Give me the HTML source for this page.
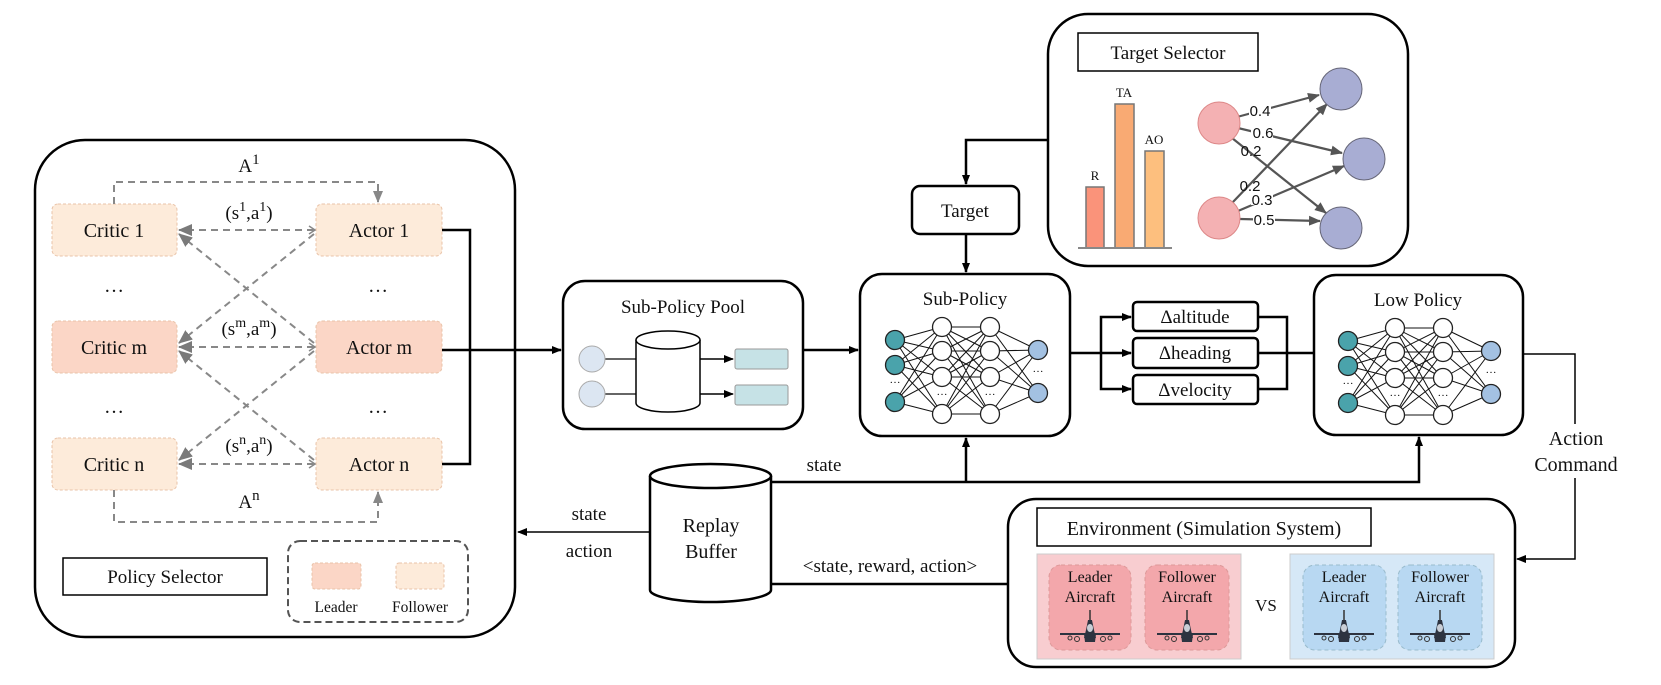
<!DOCTYPE html>
<html><head><meta charset="utf-8"><style>
html,body{margin:0;padding:0;background:#fff}
svg{display:block}
text{font-family:"Liberation Serif",serif;fill:#111}
.s{font-family:"Liberation Sans",sans-serif}
</style></head><body>
<svg id="svg" width="1661" height="685" viewBox="0 0 1661 685" xmlns="http://www.w3.org/2000/svg">
<defs>
<marker id="ab" markerWidth="10" markerHeight="10" refX="9" refY="5" orient="auto" markerUnits="userSpaceOnUse"><path d="M0,1 L10,5 L0,9 Z" fill="#000"/></marker>
<marker id="ag" markerWidth="14" markerHeight="14" refX="13" refY="7" orient="auto" markerUnits="userSpaceOnUse"><path d="M0,1 L14,7 L0,13 Z" fill="#7a7a7a"/></marker>
<marker id="ags" markerWidth="10" markerHeight="10" refX="9" refY="5" orient="auto" markerUnits="userSpaceOnUse"><path d="M0,1 L10,5 L0,9" fill="none" stroke="#888" stroke-width="1.5"/></marker>
<marker id="agd" markerWidth="12" markerHeight="12" refX="11" refY="6" orient="auto" markerUnits="userSpaceOnUse"><path d="M0,1 L12,6 L0,11 Z" fill="#888"/></marker>
<marker id="an" markerWidth="12" markerHeight="12" refX="11" refY="6" orient="auto" markerUnits="userSpaceOnUse"><path d="M0,1 L12,6 L0,11 Z" fill="#555"/></marker>
<g id="jet">
 <line x1="0" y1="-24" x2="0" y2="0" stroke="#333" stroke-width="1.5"/>
 <path d="M-4,-4 L-2,-14 L2,-14 L4,-4 L6,4 L-6,4 Z" fill="#2d3340"/>
 <ellipse cx="0" cy="-6" rx="3" ry="4" fill="#c9ced6"/>
 <line x1="-30" y1="0" x2="30" y2="0" stroke="#2d3340" stroke-width="2"/>
 <path d="M-6,0 L6,0 L5,8 L-5,8 Z" fill="#2d3340"/>
 <circle cx="-20" cy="4" r="2" fill="none" stroke="#333"/><circle cx="-13" cy="5" r="2.5" fill="none" stroke="#333"/>
 <circle cx="13" cy="5" r="2.5" fill="none" stroke="#333"/><circle cx="20" cy="4" r="2" fill="none" stroke="#333"/>
</g>
</defs>

<!-- ===== Policy Selector panel ===== -->
<rect x="35" y="140" width="480" height="497" rx="50" fill="#fff" stroke="#000" stroke-width="2.5"/>
<g stroke="#e9c3a8" stroke-dasharray="3,2" stroke-width="1">
<rect x="52" y="204" width="125" height="52" rx="6" fill="#fdebda"/>
<rect x="316" y="204" width="126" height="52" rx="6" fill="#fdebda"/>
<rect x="52" y="321" width="125" height="52" rx="6" fill="#fbd6c6"/>
<rect x="316" y="321" width="126" height="52" rx="6" fill="#fbd6c6"/>
<rect x="52" y="438" width="125" height="52" rx="6" fill="#fdebda"/>
<rect x="316" y="438" width="126" height="52" rx="6" fill="#fdebda"/>
</g>
<g font-size="20" text-anchor="middle">
<text x="114" y="237">Critic 1</text><text x="379" y="237">Actor 1</text>
<text x="114" y="354">Critic m</text><text x="379" y="354">Actor m</text>
<text x="114" y="471">Critic n</text><text x="379" y="471">Actor n</text>
<text x="114" y="292">…</text><text x="378" y="292">…</text>
<text x="114" y="413">…</text><text x="378" y="413">…</text>
</g>
<g fill="none" stroke="#888" stroke-width="2" stroke-dasharray="7,5">
<path d="M114,204 V182 H378 V202" marker-end="url(#agd)"/>
<path d="M114,490 V522 H378 V492" marker-end="url(#agd)"/>
<line x1="314" y1="230" x2="179" y2="230" marker-end="url(#ag)"/>
<line x1="314" y1="347" x2="179" y2="347" marker-end="url(#ag)"/>
<line x1="314" y1="464" x2="179" y2="464" marker-end="url(#ag)"/>
<line x1="314" y1="234" x2="179" y2="343" marker-end="url(#ag)"/>
<line x1="314" y1="343" x2="179" y2="234" marker-end="url(#ag)"/>
<line x1="314" y1="351" x2="179" y2="460" marker-end="url(#ag)"/>
<line x1="314" y1="460" x2="179" y2="351" marker-end="url(#ag)"/>
</g>
<g fill="none" stroke="#888" stroke-width="1.5">
<path d="M309,226 L315,230 L309,234"/><path d="M309,343 L315,347 L309,351"/><path d="M309,460 L315,464 L309,468"/>
</g>
<g font-size="19" text-anchor="middle">
<text x="249" y="172">A<tspan dy="-8" font-size="15">1</tspan></text>
<text x="249" y="219">(s<tspan dy="-8" font-size="14">1</tspan><tspan dy="8">,a</tspan><tspan dy="-8" font-size="14">1</tspan><tspan dy="8">)</tspan></text>
<text x="249" y="335">(s<tspan dy="-8" font-size="14">m</tspan><tspan dy="8">,a</tspan><tspan dy="-8" font-size="14">m</tspan><tspan dy="8">)</tspan></text>
<text x="249" y="452">(s<tspan dy="-8" font-size="14">n</tspan><tspan dy="8">,a</tspan><tspan dy="-8" font-size="14">n</tspan><tspan dy="8">)</tspan></text>
<text x="249" y="508">A<tspan dy="-8" font-size="15">n</tspan></text>
</g>
<path d="M442,230 H470 V464 H442" fill="none" stroke="#000" stroke-width="2.5"/>
<line x1="442" y1="350" x2="561" y2="350" stroke="#000" stroke-width="2.5" marker-end="url(#ab)"/>
<rect x="63" y="558" width="204" height="37" fill="#fff" stroke="#000" stroke-width="1.5"/>
<text x="165" y="583" font-size="19" text-anchor="middle">Policy Selector</text>
<rect x="288" y="541" width="180" height="81" rx="12" fill="none" stroke="#555" stroke-width="2" stroke-dasharray="7,4"/>
<rect x="312" y="563" width="49" height="26" rx="3" fill="#fbd6c6" stroke="#e9c3a8" stroke-dasharray="3,2"/>
<rect x="396" y="563" width="48" height="26" rx="3" fill="#fdebda" stroke="#e9c3a8" stroke-dasharray="3,2"/>
<text x="336" y="612" font-size="15.5" text-anchor="middle">Leader</text>
<text x="420" y="612" font-size="15.5" text-anchor="middle">Follower</text>

<!-- ===== Sub-Policy Pool ===== -->
<rect x="563" y="281" width="240" height="148" rx="22" fill="#fff" stroke="#000" stroke-width="2.5"/>
<text x="683" y="313" font-size="19" text-anchor="middle">Sub-Policy Pool</text>
<line x1="604" y1="359" x2="636" y2="359" stroke="#333" stroke-width="1.5"/>
<line x1="604" y1="394" x2="636" y2="394" stroke="#333" stroke-width="1.5"/>
<circle cx="592" cy="359" r="13" fill="#dce6f2" stroke="#aaa"/>
<circle cx="592" cy="394" r="13" fill="#dce6f2" stroke="#aaa"/>
<path d="M636,340 V403 A32,9 0 0 0 700,403 V340" fill="#fff" stroke="#000" stroke-width="1.5"/>
<ellipse cx="668" cy="340" rx="32" ry="9" fill="#fff" stroke="#000" stroke-width="1.5"/>
<line x1="700" y1="359" x2="733" y2="359" stroke="#000" stroke-width="1.5" marker-end="url(#ab)"/>
<line x1="700" y1="394" x2="733" y2="394" stroke="#000" stroke-width="1.5" marker-end="url(#ab)"/>
<rect x="735" y="349" width="53" height="20" rx="2" fill="#c6e2e6" stroke="#999"/>
<rect x="735" y="385" width="53" height="20" rx="2" fill="#c6e2e6" stroke="#999"/>
<line x1="803" y1="350" x2="858" y2="350" stroke="#000" stroke-width="2.5" marker-end="url(#ab)"/>

<!-- ===== Sub-Policy ===== -->
<rect x="860" y="274" width="210" height="162" rx="22" fill="#fff" stroke="#000" stroke-width="2.5"/>
<text x="965" y="305" font-size="19" text-anchor="middle">Sub-Policy</text>
<g id="nn1"></g>

<!-- Target & selector -->
<rect x="912" y="186" width="107" height="48" rx="8" fill="#fff" stroke="#000" stroke-width="2.5"/>
<text x="965" y="217" font-size="19" text-anchor="middle">Target</text>
<path d="M1048,140 H966 V184" fill="none" stroke="#000" stroke-width="2.5" marker-end="url(#ab)"/>
<line x1="966" y1="234" x2="966" y2="272" stroke="#000" stroke-width="2.5" marker-end="url(#ab)"/>
<rect x="1048" y="14" width="360" height="252" rx="40" fill="#fff" stroke="#000" stroke-width="2.5"/>
<rect x="1078" y="33" width="180" height="38" fill="#fff" stroke="#000" stroke-width="1.5"/>
<text x="1168" y="59" font-size="19" text-anchor="middle">Target Selector</text>
<rect x="1086" y="187" width="18" height="61" fill="#fa937a" stroke="#777" stroke-width="1.5"/>
<rect x="1115" y="104" width="19" height="144" fill="#f9aa73" stroke="#777" stroke-width="1.5"/>
<rect x="1145" y="151" width="19" height="97" fill="#fdbf7e" stroke="#777" stroke-width="1.5"/>
<line x1="1078" y1="248" x2="1172" y2="248" stroke="#888" stroke-width="2"/>
<g font-size="13" text-anchor="middle"><text x="1095" y="180">R</text><text x="1124" y="97">TA</text><text x="1154" y="144">AO</text></g>
<g stroke="#555" stroke-width="2.2" fill="none">
<line x1="1237" y1="117" x2="1319" y2="95" marker-end="url(#an)"/>
<line x1="1238" y1="128" x2="1342" y2="153" marker-end="url(#an)"/>
<line x1="1232" y1="138" x2="1326" y2="213" marker-end="url(#an)"/>
<line x1="1232" y1="203" x2="1327" y2="104" marker-end="url(#an)"/>
<line x1="1238" y1="211" x2="1344" y2="166" marker-end="url(#an)"/>
<line x1="1240" y1="219" x2="1320" y2="221" marker-end="url(#an)"/>
</g>
<circle cx="1219" cy="123" r="21" fill="#f4b1b3" stroke="#d88"/>
<circle cx="1219" cy="218" r="21" fill="#f4b1b3" stroke="#d88"/>
<circle cx="1341" cy="89" r="21" fill="#a8add3" stroke="#667"/>
<circle cx="1364" cy="159" r="21" fill="#a8add3" stroke="#667"/>
<circle cx="1341" cy="228" r="21" fill="#a8add3" stroke="#667"/>
<g class="s" font-size="15" text-anchor="middle" font-family="Liberation Sans,sans-serif">
<rect x="1249" y="101" width="22" height="14" fill="#fff"/><text x="1260" y="116" class="s">0.4</text>
<rect x="1251" y="124" width="22" height="14" fill="#fff"/><text x="1263" y="138" class="s">0.6</text>
<text x="1251" y="156" class="s">0.2</text>
<text x="1250" y="191" class="s">0.2</text>
<rect x="1251" y="191" width="22" height="14" fill="#fff"/><text x="1262" y="205" class="s">0.3</text>
<rect x="1253" y="212" width="22" height="14" fill="#fff"/><text x="1264" y="225" class="s">0.5</text>
</g>

<!-- deltas -->
<line x1="1070" y1="353" x2="1131" y2="353" stroke="#000" stroke-width="2.5" marker-end="url(#ab)"/>
<path d="M1101,353 V317 H1131" fill="none" stroke="#000" stroke-width="2.5" marker-end="url(#ab)"/>
<path d="M1101,353 V389 H1131" fill="none" stroke="#000" stroke-width="2.5" marker-end="url(#ab)"/>
<path d="M1258,317 H1287 V389 H1258 M1258,353 H1314" fill="none" stroke="#000" stroke-width="2.5"/>
<g fill="#fff" stroke="#000" stroke-width="2.5">
<rect x="1133" y="302" width="125" height="29" rx="4"/>
<rect x="1133" y="338" width="125" height="30" rx="4"/>
<rect x="1133" y="375" width="125" height="29" rx="4"/>
</g>
<g font-size="19" text-anchor="middle">
<text x="1195" y="323">Δaltitude</text><text x="1195" y="359">Δheading</text><text x="1195" y="396">Δvelocity</text>
</g>

<!-- Low policy -->
<rect x="1314" y="275" width="209" height="160" rx="22" fill="#fff" stroke="#000" stroke-width="2.5"/>
<text x="1418" y="306" font-size="19" text-anchor="middle">Low Policy</text>
<g id="nn2"></g>
<path d="M1523,354 H1575 V559 H1517" fill="none" stroke="#000" stroke-width="1.5" marker-end="url(#ab)"/>
<rect x="1540" y="424" width="75" height="54" fill="#fff"/>
<g font-size="20" text-anchor="middle"><text x="1576" y="445">Action</text><text x="1576" y="471">Command</text></g>

<!-- Replay -->
<path d="M771,482 H1419 V437" fill="none" stroke="#000" stroke-width="2.5" marker-end="url(#ab)"/>
<line x1="966" y1="482" x2="966" y2="438" stroke="#000" stroke-width="2.5" marker-end="url(#ab)"/>
<path d="M650,476 V590 A60.5,12 0 0 0 771,590 V476" fill="#fff" stroke="#000" stroke-width="2.5"/>
<ellipse cx="710.5" cy="476" rx="60.5" ry="12" fill="#fff" stroke="#000" stroke-width="2.5"/>
<g font-size="20" text-anchor="middle"><text x="711" y="532">Replay</text><text x="711" y="558">Buffer</text></g>
<text x="824" y="471" font-size="19" text-anchor="middle">state</text>
<line x1="650" y1="532" x2="518" y2="532" stroke="#000" stroke-width="1.5" marker-end="url(#ab)"/>
<text x="589" y="520" font-size="19" text-anchor="middle">state</text>
<text x="589" y="557" font-size="19" text-anchor="middle">action</text>
<line x1="771" y1="584" x2="1008" y2="584" stroke="#000" stroke-width="2.5"/>
<text x="890" y="572" font-size="19" text-anchor="middle">&lt;state, reward, action&gt;</text>

<!-- Environment -->
<rect x="1008" y="499" width="507" height="168" rx="28" fill="#fff" stroke="#000" stroke-width="2.5"/>
<rect x="1037" y="508" width="334" height="38" fill="#fff" stroke="#000" stroke-width="1.5"/>
<text x="1204" y="535" font-size="20" text-anchor="middle">Environment (Simulation System)</text>
<rect x="1037" y="554" width="204" height="105" fill="#f8cdd0" stroke="#ccc"/>
<rect x="1290" y="554" width="204" height="105" fill="#d6e8f7" stroke="#ccc"/>
<g stroke="#bbb" stroke-dasharray="4,3">
<rect x="1049" y="565" width="82" height="85" rx="12" fill="#f3a7ab" stroke="#d99"/>
<rect x="1145" y="565" width="84" height="85" rx="12" fill="#f3a7ab" stroke="#d99"/>
<rect x="1303" y="565" width="83" height="85" rx="12" fill="#b8d8f2" stroke="#9bc"/>
<rect x="1398" y="565" width="84" height="85" rx="12" fill="#b8d8f2" stroke="#9bc"/>
</g>
<g font-size="16" text-anchor="middle">
<text x="1090" y="582">Leader</text><text x="1090" y="602">Aircraft</text>
<text x="1187" y="582">Follower</text><text x="1187" y="602">Aircraft</text>
<text x="1344" y="582">Leader</text><text x="1344" y="602">Aircraft</text>
<text x="1440" y="582">Follower</text><text x="1440" y="602">Aircraft</text>
<text x="1266" y="611" font-size="17">VS</text>
</g>
<use href="#jet" x="1090" y="634"/><use href="#jet" x="1187" y="634"/>
<use href="#jet" x="1344" y="634"/><use href="#jet" x="1440" y="634"/>
</svg>
<script>
function nn(id,x0,dy){
 var g=document.getElementById(id),ns="http://www.w3.org/2000/svg",s="";
 var L=[[x0,[341,366,403],"#4aa3ab",[384]],[x0+47,[328,352,378,415],"#fff",[396]],[x0+95,[328,352,378,415],"#fff",[396]],[x0+143,[351,394],"#a3c1e2",[373]]];
 for(var l=0;l<3;l++)for(var a of L[l][1])for(var b of L[l+1][1])s+='<line x1="'+L[l][0]+'" y1="'+(a+dy)+'" x2="'+L[l+1][0]+'" y2="'+(b+dy)+'" stroke="#111" stroke-width="1"/>';
 for(var l=0;l<4;l++){for(var a of L[l][1])s+='<circle cx="'+L[l][0]+'" cy="'+(a+dy)+'" r="9.5" fill="'+L[l][2]+'" stroke="#222" stroke-width="1.3"/>';
  s+='<text x="'+L[l][0]+'" y="'+(L[l][3][0]+dy)+'" font-size="11" text-anchor="middle">…</text>';}
 g.innerHTML=s;
}
nn("nn1",895,-1);nn("nn2",1348,0);
</script>
</body></html>
